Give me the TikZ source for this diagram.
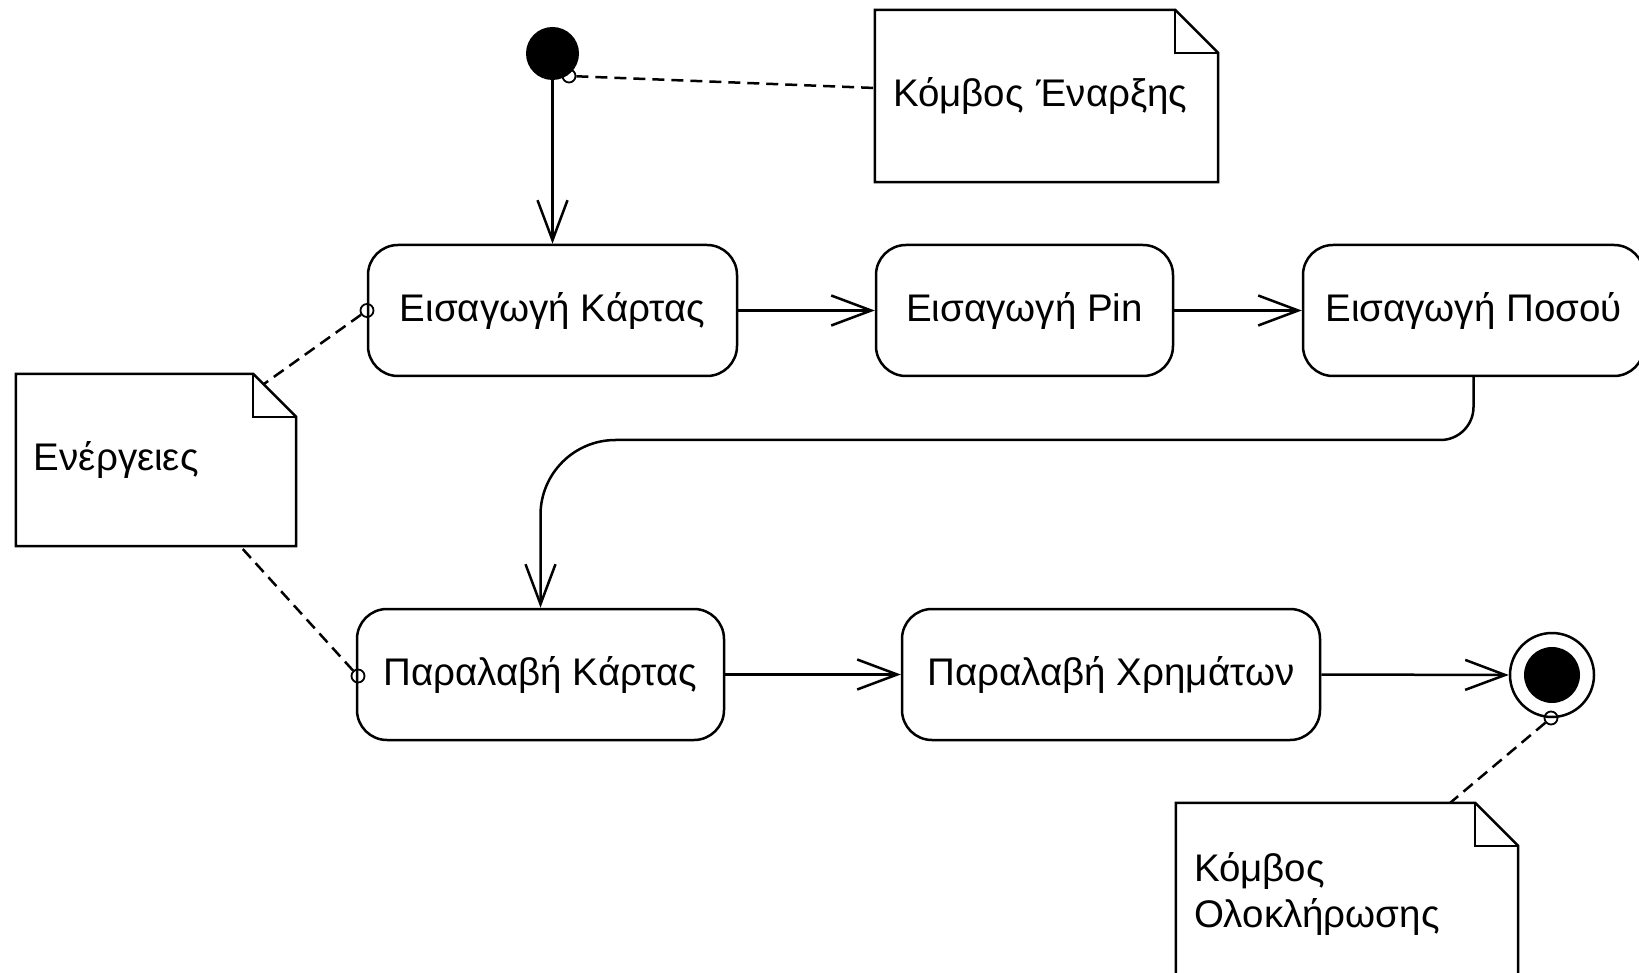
\documentclass[tikz,border=0pt]{standalone}
\usepackage{fontspec}
\setmainfont{Liberation Sans}
\usetikzlibrary{arrows.meta}

% note box with a folded top-right corner, drawn around a named node
\newcommand\umlnote[1]{%
  \draw[line width=2.5pt, line join=miter]
    (#1.north west) -- ([xshift=-43pt]#1.north east)
    -- ([yshift=-43pt]#1.north east) -- (#1.south east)
    -- (#1.south west) -- cycle;
  \draw[line width=2.5pt, line join=miter]
    ([xshift=-43pt]#1.north east) -- ([xshift=-43pt,yshift=-43pt]#1.north east)
    -- ([yshift=-43pt]#1.north east);
}

\begin{document}
\begin{tikzpicture}[x=1pt, y=-1pt,
  every node/.style={font=\fontsize{38.5}{46}\selectfont},
  activity/.style={draw, line width=2.5pt, rounded corners=30pt, inner sep=0pt,
    minimum height=131pt},
  flow/.style={line width=2.5pt,
    -{Straight Barb[length=40pt, width=30pt, line width=2.5pt]}},
  pinmark/.style={circle, draw, line width=1.8pt, inner sep=0pt, minimum size=13pt},
  notelink/.style={line width=2.5pt, dash pattern=on 12pt off 7pt},
  notebox/.style={inner xsep=18pt, inner ysep=0pt, align=left},
]
\useasboundingbox (0,0) rectangle (1639,973);

% initial and final nodes
\node[circle, fill, inner sep=0pt, minimum size=53pt] (start) at (552.5,53.5) {};
\node[circle, draw, line width=2.5pt, inner sep=0pt, minimum size=84pt] (end) at (1552,675) {};
\node[circle, fill, inner sep=0pt, minimum size=56pt] (endcore) at (end) {};

% actions
\node[activity, minimum width=369pt] (ek) at (552.5,310.5) {Εισαγωγή Κάρτας};
\node[activity, minimum width=297pt] (pin) at (1024.5,310.5) {Εισαγωγή Pin};
\node[activity, minimum width=341pt] (poso) at (1473.5,310.5) {Εισαγωγή Ποσού};
\node[activity, minimum width=367pt] (pk) at (540.5,674.5) {Παραλαβή Κάρτας};
\node[activity, minimum width=418pt] (xr) at (1111,674.5) {Παραλαβή Χρημάτων};

% notes
\node[notebox, text width=307pt, minimum width=343pt, minimum height=172pt]
  (nstart) at (1046.5,96) {Κόμβος Έναρξης};
\node[notebox, text width=244pt, minimum width=280pt, minimum height=172pt]
  (nact) at (156,460) {Ενέργειες};
\node[notebox, text width=306pt, minimum width=342pt, minimum height=182pt]
  (nend) at (1347,894) {Κόμβος\\Ολοκλήρωσης};
\umlnote{nstart}
\umlnote{nact}
\umlnote{nend}

% attachment points of the notes
\node[pinmark] (pstart) at (569,76) {};
\node[pinmark] (pek) at (367,310.5) {};
\node[pinmark] (ppk) at (358,676) {};
\node[pinmark] (pend) at (1551,718) {};

% note links
\draw[notelink] (pstart) -- ([yshift=8pt]nstart.west);
\draw[notelink] (pek) -- ([xshift=-32pt,yshift=-10pt]nact.north east);
\draw[notelink] (ppk) -- ([xshift=-56pt]nact.south east);
\draw[notelink] (pend) -- ([xshift=-68pt]nend.north east);

% control flow
\draw[flow] (start.south) -- (ek.north);
\draw[flow] (ek.east) -- (pin.west);
\draw[flow] (pin.east) -- (poso.west);
\draw[flow] (poso.south) -- (1473.5,407)
  .. controls (1473.5,425.2) and (1458.7,440) .. (1440.5,440)
  -- (615.5,440)
  .. controls (574.1,440) and (540.5,473.6) .. (540.5,515)
  -- (pk.north);
\draw[flow] (pk.east) -- (xr.west);
\draw[flow] (xr.east) -- (end.west);
\end{tikzpicture}
\end{document}
